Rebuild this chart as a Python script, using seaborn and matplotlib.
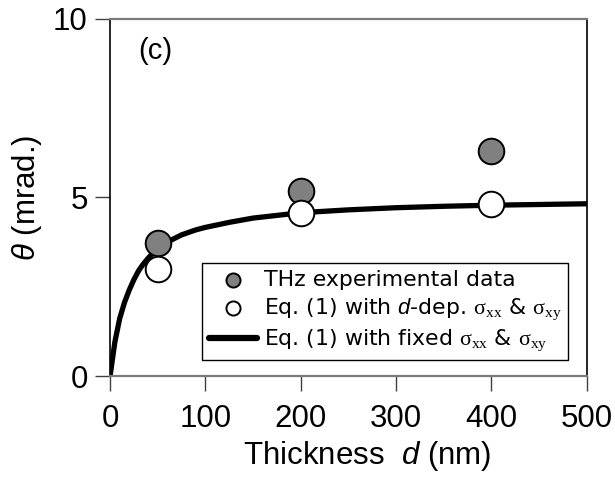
import matplotlib
matplotlib.use("Agg")
import matplotlib.pyplot as plt
import seaborn as sns
import pandas as pd

# measured / calculated points (nm, mrad)
thickness = [50, 200, 400]
theta_thz = [3.72, 5.18, 6.3]
theta_ddep = [3.0, 4.57, 4.8]

# curve: Eq. (1) with fixed sigma
curve_d = [0, 5, 10, 15, 20, 25, 30, 35, 40, 45, 50, 60, 75, 90, 100, 125,
           150, 200, 250, 300, 350, 400, 450, 500]
curve_theta = [0, 0.95, 1.6, 2.05, 2.4, 2.7, 2.95, 3.14, 3.3, 3.44, 3.55,
               3.75, 3.95, 4.09, 4.16, 4.3, 4.42, 4.57, 4.65, 4.71, 4.75,
               4.78, 4.8, 4.82]

sns.set_style("ticks")
plt.rcParams["font.family"] = ["Liberation Sans", "DejaVu Sans"]
plt.rcParams["mathtext.fontset"] = "custom"
plt.rcParams["mathtext.it"] = "Liberation Sans:italic"
plt.rcParams["mathtext.rm"] = "Liberation Serif"
plt.rcParams["text.color"] = "black"
plt.rcParams["axes.labelcolor"] = "black"
plt.rcParams["xtick.color"] = "black"
plt.rcParams["ytick.color"] = "black"

pts = pd.DataFrame({"d": thickness, "thz": theta_thz, "ddep": theta_ddep})
curve = pd.DataFrame({"d": curve_d, "theta": curve_theta})

fig = plt.figure(figsize=(6.15, 4.79), dpi=100)
ax = fig.add_axes([0.179, 0.215, 0.775, 0.746])

sns.lineplot(data=curve, x="d", y="theta", ax=ax, color="black", lw=3.8,
             label=r"Eq. (1) with fixed $\mathrm{\sigma_{xx}}$ & $\mathrm{\sigma_{xy}}$",
             zorder=2)
sns.scatterplot(data=pts, x="d", y="thz", ax=ax, s=340, color="#808080",
                edgecolor="black", linewidth=1.4, zorder=3,
                label="THz experimental data")
sns.scatterplot(data=pts, x="d", y="ddep", ax=ax, s=340, color="white",
                edgecolor="black", linewidth=1.4, zorder=3,
                label=r"Eq. (1) with $d$-dep. $\mathrm{\sigma_{xx}}$ & $\mathrm{\sigma_{xy}}$")

ax.set_xlim(0, 500)
ax.set_ylim(0, 10)
ax.set_xticks([0, 100, 200, 300, 400, 500])
ax.set_yticks([0, 5, 10])
ax.tick_params(axis="both", labelsize=22.5, length=11, width=1, color="#404040")
ax.tick_params(axis="x", pad=9)
ax.tick_params(axis="y", pad=5)
ax.set_xlabel(r"Thickness  $d$ (nm)", fontsize=22.5)
ax.xaxis.set_label_coords(0.539, -0.175)
ax.set_ylabel(r"$\theta$ (mrad.)", fontsize=22.5)
ax.yaxis.set_label_coords(-0.138, 0.5)

for side in ["left", "right"]:
    ax.spines[side].set_color("black")
    ax.spines[side].set_linewidth(1.2)
for side in ["top", "bottom"]:
    ax.spines[side].set_color("#7a7a7a")
    ax.spines[side].set_linewidth(1.6)

ax.text(0.06, 0.91, "(c)", transform=ax.transAxes, fontsize=21,
        ha="left", va="center")

handles, labels = ax.get_legend_handles_labels()
order = [1, 2, 0]
leg = ax.legend([handles[i] for i in order], [labels[i] for i in order],
                loc="lower left", bbox_to_anchor=(0.193, 0.045),
                frameon=True, fancybox=False,
                edgecolor="black", framealpha=1, borderpad=0.3,
                handlelength=2.2, handletextpad=0.3, labelspacing=0.28,
                borderaxespad=0, markerscale=0.55,
                prop={"family": "DejaVu Sans", "size": 15.8})
leg.get_frame().set_linewidth(1.0)
for line in leg.get_lines():
    line.set_linewidth(4.5)

fig.savefig("out.png", dpi=100)
